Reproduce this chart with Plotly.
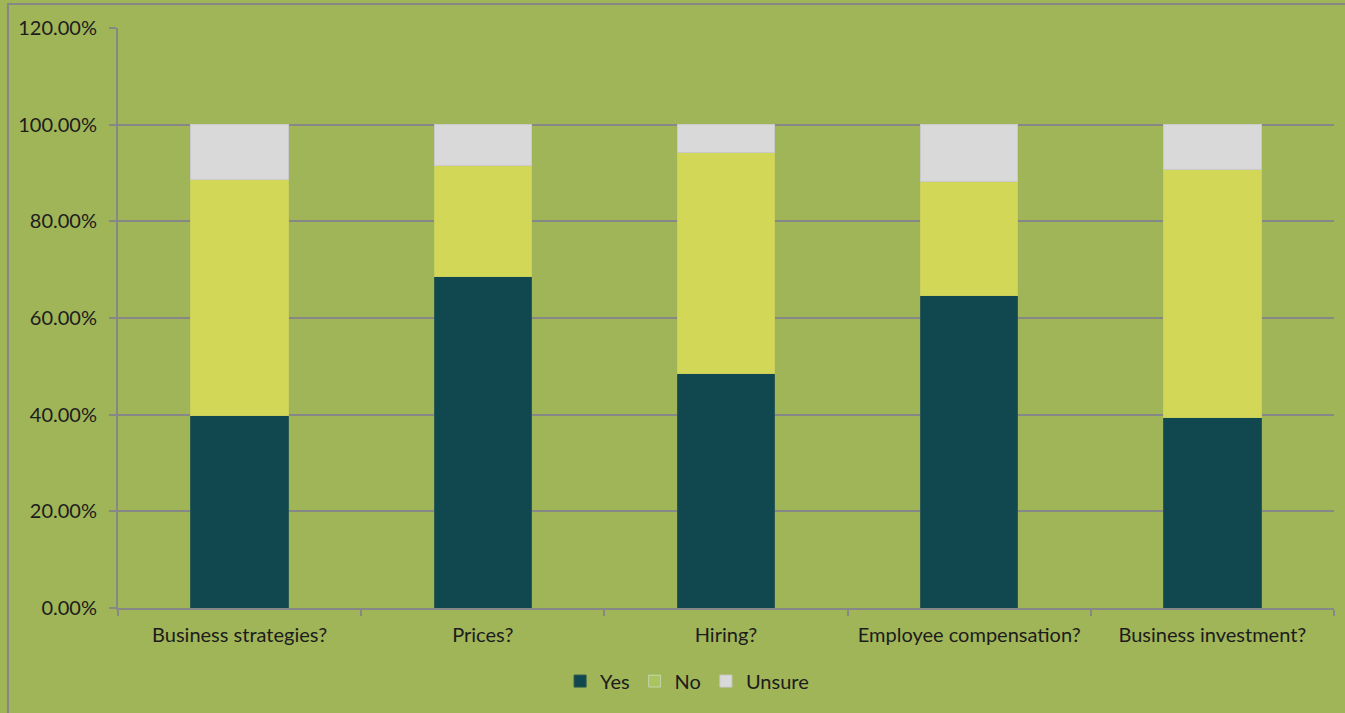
import plotly.graph_objects as go

# Survey questions and share of answers (percent)
categories = ["Business strategies?", "Prices?", "Hiring?",
              "Employee compensation?", "Business investment?"]
yes_pct = [39.9, 68.5, 48.6, 64.7, 39.5]
no_pct = [48.8, 23.0, 45.7, 23.6, 51.3]
unsure_pct = [11.3, 8.5, 5.7, 11.7, 9.2]
y_ticks = [0, 20, 40, 60, 80, 100, 120]
y_tick_labels = [f"{v:.2f}%" for v in y_ticks]

BG = "#A0B458"
GRID = "#878787"
FONT = dict(family="Lato, Carlito, 'Open Sans', sans-serif", size=20, color="#1c1c1c")

fig = go.Figure()
fig.add_trace(go.Bar(name="Yes", x=categories, y=yes_pct,
                     marker=dict(color="#11474F", line=dict(color="#2a5a4f", width=1))))
fig.add_trace(go.Bar(name="No", x=categories, y=no_pct, showlegend=False,
                     marker=dict(color="#D3D757", line=dict(color="#c8cf5a", width=1))))
# legend key for "No" in its own (lighter green) swatch colour
fig.add_trace(go.Bar(name="No", x=[None], y=[None], marker=dict(color="#A9C460")))
fig.add_trace(go.Bar(name="Unsure", x=categories, y=unsure_pct,
                     marker=dict(color="#D9D9D9", line=dict(color="#c9c9c9", width=1))))

fig.update_layout(
    barmode="stack",
    bargap=0.6,
    width=1345, height=713,
    margin=dict(l=118, r=11, t=28, b=105),
    paper_bgcolor=BG, plot_bgcolor=BG,
    font=FONT,
    legend=dict(orientation="h", x=0.468, xanchor="center", y=-0.126, yanchor="middle",
                font=FONT, bgcolor="rgba(0,0,0,0)", itemwidth=30, traceorder="normal"),
    shapes=[dict(type="rect", xref="paper", yref="paper",
                 x0=-0.0905, x1=1.05, y0=-0.25, y1=1.0414,
                 line=dict(color=GRID, width=2), fillcolor="rgba(0,0,0,0)", layer="below")],
)
fig.update_yaxes(range=[0, 120], tickvals=y_ticks, ticktext=y_tick_labels,
                 showgrid=True, gridcolor=GRID, gridwidth=1.5,
                 showline=True, linecolor=GRID, linewidth=2,
                 ticks="outside", ticklen=7, tickcolor=GRID, tickwidth=2,
                 ticklabelstandoff=8, zeroline=False)
fig.update_xaxes(showline=True, linecolor=GRID, linewidth=2,
                 ticks="outside", ticklen=6, tickcolor=GRID, tickwidth=2,
                 tickson="boundaries", ticklabelstandoff=8, showgrid=False)

fig.write_html("out.html")
